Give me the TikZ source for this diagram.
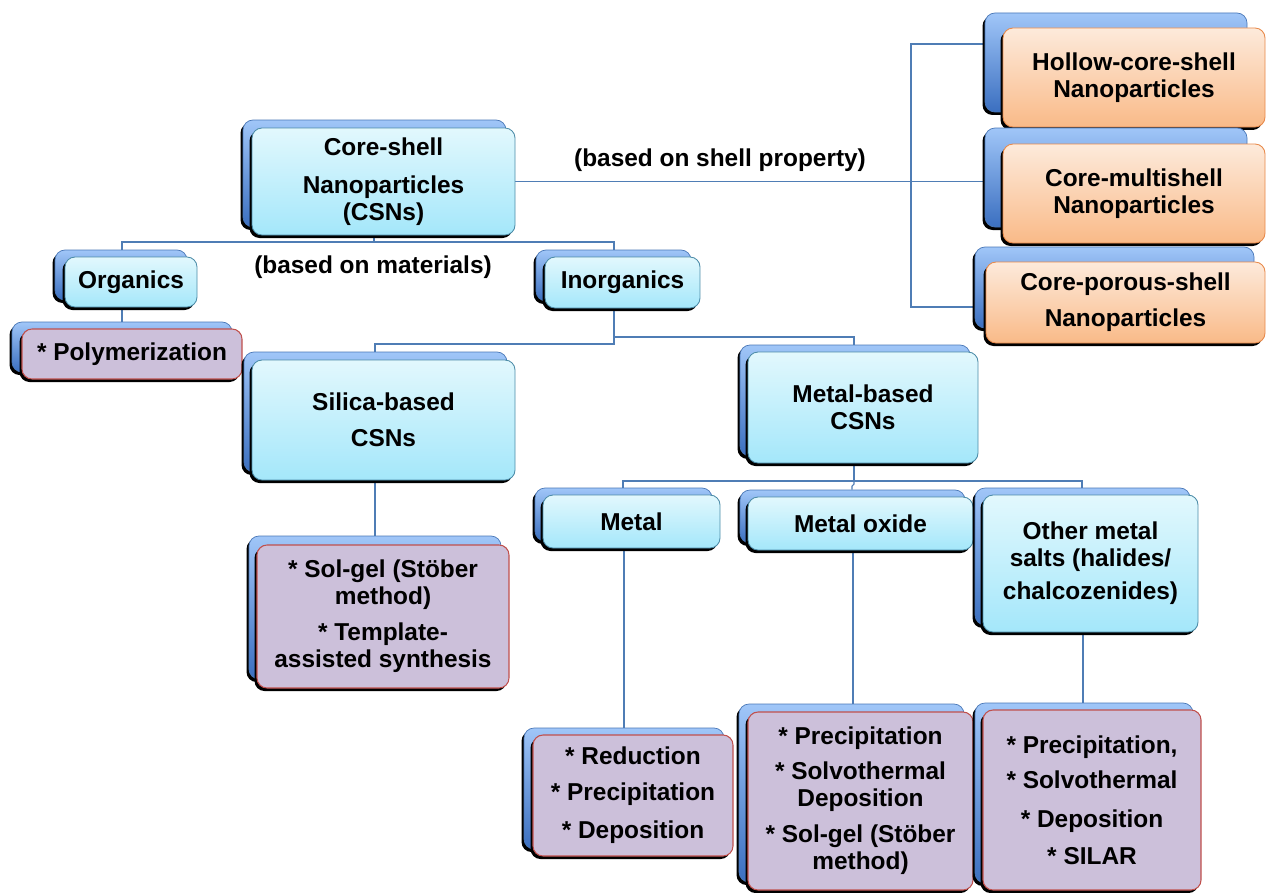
\documentclass[tikz,border=0pt]{standalone}
\usepackage{fontspec}
\setmainfont{Liberation Sans}
\usetikzlibrary{shadows,backgrounds}
\definecolor{bkA}{HTML}{A0C6F8}
\definecolor{bkB}{HTML}{3B6FC0}
\definecolor{bkL}{HTML}{4A78B8}
\definecolor{cyA}{HTML}{E2F8FD}
\definecolor{cyB}{HTML}{A4E7FA}
\definecolor{cyL}{HTML}{4C8CA8}
\definecolor{puF}{HTML}{CCC0DA}
\definecolor{puL}{HTML}{C0504D}
\definecolor{orA}{HTML}{FDEADB}
\definecolor{orB}{HTML}{F9BA88}
\definecolor{orL}{HTML}{E8894A}
\definecolor{cnL}{HTML}{4F7DB5}
\tikzset{
  blk/.style={drop shadow={shadow xshift=-0.05cm, shadow yshift=-0.06cm, opacity=1, fill=black}},
  backbox/.style={rectangle, rounded corners=0.2cm, top color=bkA, bottom color=bkB, draw=bkL, line width=0.4pt, blk, inner sep=0pt},
  cyanbox/.style={rectangle, rounded corners=0.2cm, top color=cyA, bottom color=cyB, draw=cyL, line width=0.5pt, blk, inner sep=0pt, align=center, font=\bfseries\fontsize{13.9}{15.4}\selectfont},
  purplebox/.style={rectangle, rounded corners=0.2cm, fill=puF, draw=puL, line width=0.6pt, blk, inner sep=0pt, align=center, font=\bfseries\fontsize{13.9}{15.4}\selectfont},
  orangebox/.style={rectangle, rounded corners=0.2cm, top color=orA, bottom color=orB, draw=orL, line width=0.5pt, blk, inner sep=0pt, align=center, font=\bfseries\fontsize{13.9}{15.4}\selectfont},
  lbl/.style={font=\bfseries\fontsize{13.9}{15.4}\selectfont, inner sep=0pt},
  conn/.style={draw=cnL, line width=0.6pt}
}
% #1 name, #2 x1, #3 y1, #4 x2, #5 y2 (front box, px), #6 dx, #7 dy (back box offset), #8 style, #9 text
\newcommand\cbx[9]{%
  \node[backbox, minimum width={(#4-#2)*0.02cm}, minimum height={(#5-#3)*0.02cm}] (#1-b) at ({(#2+#4)/2-#6},{(#3+#5)/2-#7}) {};
  \node[#8, minimum width={(#4-#2)*0.02cm}, minimum height={(#5-#3)*0.02cm}] (#1) at ({(#2+#4)/2},{(#3+#5)/2}) {#9};
}
\begin{document}
\begin{tikzpicture}[x=0.02cm,y=-0.02cm]
\useasboundingbox (0,0) rectangle (1267,892);

% right column
\cbx{hol}{1003}{28}{1265}{127}{18}{15}{orangebox}{Hollow-core-shell\\Nanoparticles}
\cbx{mult}{1003}{144}{1265}{243}{18}{16}{orangebox}{Core-multishell\\Nanoparticles}
\cbx{por}{986}{262}{1265}{343}{11}{15}{orangebox}{Core-porous-shell\\[5pt]Nanoparticles}

% main tree
\cbx{csn}{252}{128}{515}{235}{9}{8}{cyanbox}{Core-shell\\[6pt]Nanoparticles\\(CSNs)}
\cbx{org}{65}{257}{197}{307}{10}{7}{cyanbox}{Organics}
\cbx{ino}{545}{257}{700}{308}{9}{7}{cyanbox}{Inorganics}
\cbx{pol}{22}{329}{242}{379}{10}{7}{purplebox}{* Polymerization}
\cbx{sil}{252}{360}{515}{480}{8}{8}{cyanbox}{Silica-based\\[5pt]CSNs}
\cbx{mb}{748}{352}{978}{463}{8}{7}{cyanbox}{Metal-based\\CSNs}
\cbx{met}{543}{495}{720}{548}{8}{7}{cyanbox}{Metal}
\cbx{mox}{748}{497}{973}{550}{8}{7}{cyanbox}{Metal oxide}
\cbx{oth}{983}{495}{1198}{632}{8}{7}{cyanbox}{Other metal\\salts (halides/\\[3.4pt]chalcozenides)}
\cbx{sg}{257}{545}{509}{688}{8}{9}{purplebox}{* Sol-gel (Stöber\\method)\\[5pt]* Template-\\assisted synthesis}
\cbx{red}{533}{735}{733}{856}{9}{7}{purplebox}{* Reduction\\[5pt]* Precipitation\\[6.5pt]* Deposition}
\cbx{mom}{748}{712}{973}{890}{9}{8}{purplebox}{* Precipitation\\[4.5pt]* Solvothermal\\Deposition\\[5pt]* Sol-gel (Stöber\\method)}
\cbx{oom}{983}{710}{1201}{890}{8}{7}{purplebox}{* Precipitation,\\[4.5pt]* Solvothermal\\[7pt]* Deposition\\[5.5pt]* SILAR}

% labels
\node[lbl] (l1) at (720,160) {(based on shell property)};
\node[lbl] (l2) at (373,267) {(based on materials)};

\begin{scope}[on background layer]
\fill[white] (0,0) rectangle (1267,892);
% right branch
\coordinate (rt) at (911,44);
\coordinate (rb) at (911,307);
\draw[conn] (csn.east) -- (csn.east -| mult-b.west);
\draw[conn] (rt -| hol-b.west) -- (rt) -- (rb) -- (rb -| por-b.west);
% materials branch
\coordinate (mc) at (374,242);
\coordinate (ml) at (122,242);
\coordinate (mr) at (614,242);
\draw[conn] (mc |- csn.south) -- (mc);
\draw[conn] (ml |- org-b.north) -- (ml) -- (mr) -- (mr |- ino-b.north);
\draw[conn] (ml |- org.south) -- (ml |- pol-b.north);
% inorganics branch
\coordinate (i1) at (614,344);
\coordinate (i2) at (614,337);
\coordinate (sl) at (375,344);
\coordinate (mbl) at (854,337);
\draw[conn] (i1 |- ino.south) -- (i1) -- (sl) -- (sl |- sil-b.north);
\draw[conn] (i2) -- (mbl) -- (mbl |- mb-b.north);
% metal-based branch
\coordinate (k0) at (854,481);
\coordinate (kl) at (623,481);
\coordinate (kr) at (1082,481);
\coordinate (kj) at (852,486);
\draw[conn] (k0 |- mb.south) -- (k0);
\draw[conn] (kl |- met-b.north) -- (kl) -- (kr) -- (kr |- oth-b.north);
\draw[conn] (k0) -- (854,484) -- (kj) -- (kj |- mox-b.north);
% methods
\coordinate (s2) at (375,500);
\draw[conn] (s2 |- sil.south) -- (s2 |- sg-b.north);
\coordinate (t1) at (624,600);
\draw[conn] (t1 |- met.south) -- (t1 |- red-b.north);
\coordinate (t2) at (853,600);
\draw[conn] (t2 |- mox.south) -- (t2 |- mom-b.north);
\coordinate (t3) at (1083,600);
\draw[conn] (t3 |- oth.south) -- (t3 |- oom-b.north);
\end{scope}
\end{tikzpicture}
\end{document}
